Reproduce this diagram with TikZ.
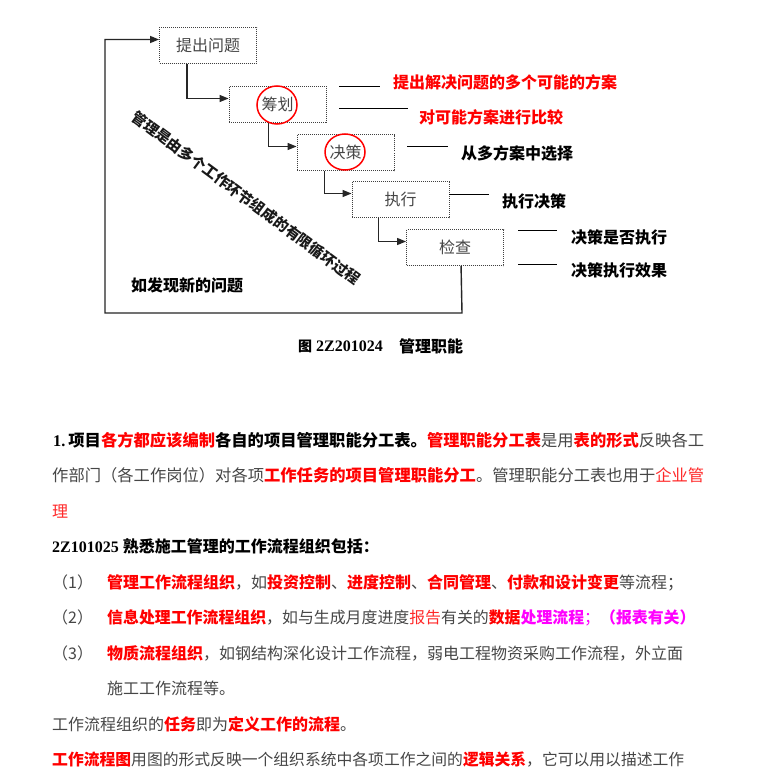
\documentclass[tikz,border=0pt]{standalone}
\usepackage{fontspec}
\setmainfont{Noto Sans CJK SC}
\newfontfamily\lat{Liberation Serif}
\usetikzlibrary{arrows.meta}
\definecolor{rd}{RGB}{255,0,0}
\definecolor{rdl}{RGB}{255,40,40}
\definecolor{mg}{RGB}{255,0,255}
\definecolor{tx}{RGB}{70,70,70}
\newcommand\rb[1]{{\bfseries\color{rd}#1}}
\newcommand\bk[1]{{\bfseries\color{black}#1}}
\newcommand\rl[1]{{\color{rdl}#1}}
\newcommand\mgb[1]{{\bfseries\color{mg}#1}}
\begin{document}
\begin{tikzpicture}[x=1pt,y=-1pt,
  stepbox/.style={draw=black!75, dash pattern=on 1pt off 1pt, line width=0.9pt,
    minimum width=97pt, minimum height=36pt, inner sep=0pt, text=tx,
    font=\fontsize{16}{16}\selectfont},
  arr/.style={-{Triangle[length=9pt,width=7pt]}, line width=1.2pt, draw=black!85},
  side/.style={line width=1pt, draw=black},
  lbl/.style={anchor=west, inner sep=0pt, font=\fontsize{16}{16}\selectfont\bfseries},
  body/.style={anchor=base west, inner sep=0pt, text=tx, font=\fontsize{16}{16}\selectfont},
  ring/.style={draw=rd, line width=1.5pt}
]
\useasboundingbox (0,0) rectangle (760,781);
\fill[white] (0,0) rectangle (760,781);

% boxes
\node[stepbox] (b1) at (208,45.5) {提出问题};
\node[stepbox] (b2) at (277.5,104.5) {筹划};
\node[stepbox] (b3) at (345.5,152.5) {决策};
\node[stepbox] (b4) at (400.5,199.5) {执行};
\node[stepbox] (b5) at (455,247.5) {检查};

% rings
\draw[ring] (277,105) ellipse [x radius=20, y radius=19];
\draw[ring] (345,152) ellipse [x radius=20, y radius=18];

% step connectors
\draw[arr] ([xshift=28pt]b1.south west) |- ([yshift=6pt]b2.west);
\draw[arr] ([xshift=40pt]b2.south west) |- ([yshift=6pt]b3.west);
\draw[arr] ([xshift=28pt]b3.south west) |- ([yshift=6pt]b4.west);
\draw[arr] ([xshift=27pt]b4.south west) |- ([yshift=6pt]b5.west);

% feedback
\coordinate (fb1) at (462,313);
\coordinate (fb2) at (105,313);
\draw[arr, line width=1.4pt] ([xshift=55pt]b5.south west) -- (fb1) -- (fb2) |- ([yshift=6pt]b1.west);

% side labels
\node[lbl, text=rd] (s1) at (393,82) {提出解决问题的多个可能的方案};
\node[lbl, text=rd] (s2) at (419,117) {对可能方案进行比较};
\node[lbl] (s3) at (461,153) {从多方案中选择};
\node[lbl] (s4) at (502,201) {执行决策};
\node[lbl] (s5) at (571,237) {决策是否执行};
\node[lbl] (s6) at (571,270) {决策执行效果};
\draw[side] (339,87) -- (380,87);
\draw[side] (339,109) -- (408,109);
\draw[side] (407,146) -- (448,146);
\draw[side] ([yshift=5.5pt]b4.east) -- ++(40,0);
\draw[side] (518,230) -- (557,230);
\draw[side] (518,264) -- (557,264);

% diagonal text
\node[rotate=-36.5, inner sep=0pt, text=black!90, font=\fontsize{14.7}{15}\selectfont\bfseries] (diag) at (246,198) {管理是由多个工作环节组成的有限循环过程};

\node[lbl] (newq) at (131,285) {如发现新的问题};

% caption
\node[inner sep=0pt, font=\fontsize{14}{14}\selectfont\bfseries] (cap1) at (305,346) {图};
\node[anchor=west, inner sep=0pt, font=\fontsize{16}{16}\selectfont\bfseries\lat] (cap2) at (316,346) {2Z201024};
\node[lbl] (cap3) at (399,346) {管理职能};

% body text
\node[body] (t1) at (53,446) {\fontsize{16.3}{16}\selectfont{\bfseries\lat\color{black}1.}\hspace{3pt}\bk{项目}\rb{各方都应该编制}\bk{各自的项目管理职能分工表。}\rb{管理职能分工表}是用\rb{表的形式}反映各工};
\node[body] (t2) at (52,481.5) {\fontsize{16.3}{16}\selectfont 作部门（各工作岗位）对各项\rb{工作任务的项目管理职能分工}。管理职能分工表也用于\rl{企业管}};
\node[body] (t3) at (52,517) {\rl{理}};
\node[body] (t4) at (52,552.5) {\bfseries\color{black}{\lat 2Z101025}\hspace{4pt}熟悉施工管理的工作流程组织包括：};
\node[body] (n1) at (52,588) {（1）};
\node[body] (t5) at (107,588) {\rb{管理工作流程组织}，如\rb{投资控制}、\rb{进度控制}、\rb{合同管理}、\rb{付款和设计变更}等流程；};
\node[body] (n2) at (52,623.5) {（2）};
\node[body] (t6) at (107,623.5) {\fontsize{15.9}{16}\selectfont\rb{信息处理工作流程组织}，如与生成月度进度\rl{报告}有关的\rb{数据}\mgb{处理流程}{\color{mg}；}\mgb{（报表有关）}};
\node[body] (n3) at (52,659) {（3）};
\node[body] (t7) at (107,659) {\rb{物质流程组织}，如钢结构深化设计工作流程，弱电工程物资采购工作流程，外立面};
\node[body] (t8) at (107,694.5) {施工工作流程等。};
\node[body] (t9) at (52,730) {工作流程组织的\rb{任务}即为\rb{定义工作的流程}。};
\node[body] (t10) at (52,765.5) {\fontsize{15.8}{16}\selectfont\rb{工作流程图}用图的形式反映一个组织系统中各项工作之间的\rb{逻辑关系}，它可以用以描述工作};
\end{tikzpicture}
\end{document}
